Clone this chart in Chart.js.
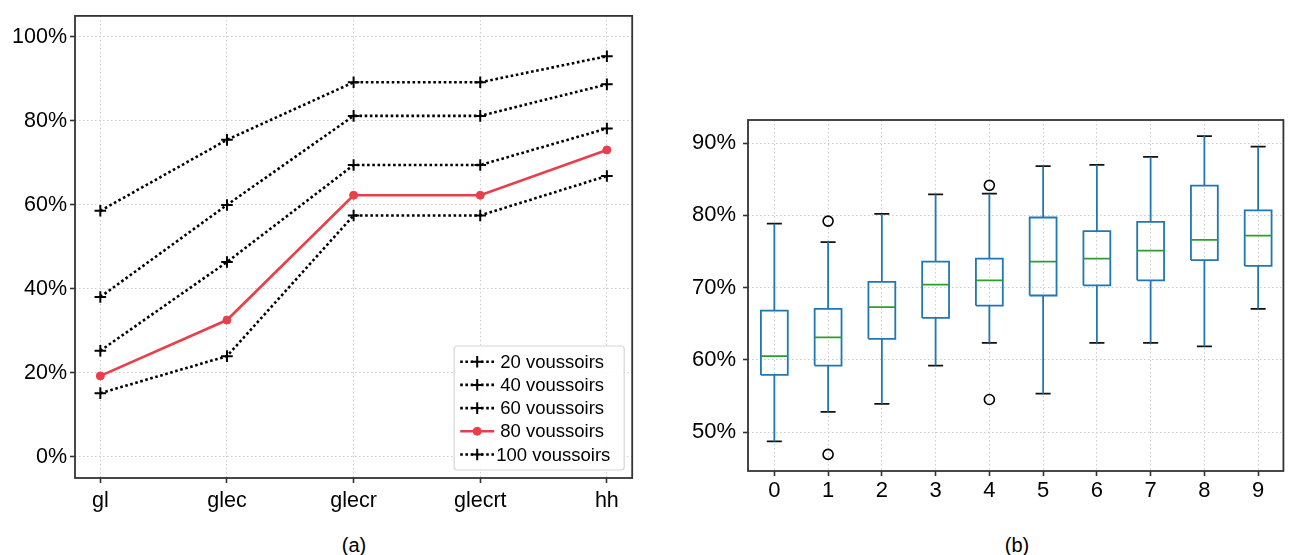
<!DOCTYPE html>
<html>
<head>
<meta charset="utf-8">
<script src="https://cdn.jsdelivr.net/npm/chart.js@4.4.1/dist/chart.umd.min.js"></script>
<style>
  body { margin: 0; background: #fff; width: 1290px; height: 555px; overflow: hidden; position: relative;
         font-family: "Liberation Sans", Arial, sans-serif; }
  #wrapA { position: absolute; left: 0; top: 0; width: 640px; height: 520px; }
  #wrapB { position: absolute; left: 660px; top: 0; width: 630px; height: 520px; }
  .cap { position: absolute; top: 533px; font-size: 20px; color: #000; transform: translateX(-50%); line-height: 24px; }
</style>
</head>
<body>
<div id="wrapA"><canvas id="chartA"></canvas></div>
<div id="wrapB"><canvas id="chartB"></canvas></div>
<div class="cap" style="left:354px">(a)</div>
<div class="cap" style="left:1017px">(b)</div>
<script>
document.addEventListener('DOMContentLoaded', function() {
  // panel (a) data
  const lineCats = ['gl', 'glec', 'glecr', 'glecrt', 'hh'];
  const v20 = [58.6, 75.5, 89.2, 89.2, 95.4];
  const v40 = [38.1, 60.0, 81.2, 81.2, 88.7];
  const v60 = [25.3, 46.4, 69.5, 69.5, 78.2];
  const v80 = [19.3, 32.6, 62.3, 62.3, 73.1];
  const v100 = [15.2, 24.0, 57.5, 57.5, 66.9];
  const yTicksA = [0, 20, 40, 60, 80, 100];

  // panel (b) data
  const boxCats = ['0', '1', '2', '3', '4', '5', '6', '7', '8', '9'];
  const whiskLow = [48.7, 52.8, 53.9, 59.2, 62.35, 55.3, 62.35, 62.35, 61.85, 67.05];
  const q1 = [57.9, 59.2, 62.9, 65.8, 67.5, 68.9, 70.3, 71.0, 73.8, 73.0];
  const med = [60.5, 63.1, 67.3, 70.4, 71.0, 73.6, 74.0, 75.1, 76.6, 77.2];
  const q3 = [66.8, 67.05, 70.8, 73.6, 74.0, 79.7, 77.8, 79.1, 84.1, 80.7];
  const whiskHigh = [78.85, 76.3, 80.2, 82.9, 83.0, 86.8, 87.0, 88.1, 90.97, 89.5];
  const fliers = [[], [79.2, 46.9], [], [], [84.15, 54.5], [], [], [], [], []];
  const yTicksB = [50, 60, 70, 80, 90];

  const FONT = '"Liberation Sans", Arial, sans-serif';
  const txt = '#000';
  const gridCol = '#cccccc';

  const frame = {
    id: 'frame',
    afterDraw(chart) {
      const a = chart.chartArea, ctx = chart.ctx;
      ctx.save();
      ctx.strokeStyle = '#333';
      ctx.lineWidth = 1.8;
      ctx.strokeRect(a.left, a.top, a.right - a.left, a.bottom - a.top);
      ctx.restore();
    }
  };

  const legendBox = {
    id: 'legendBox',
    afterDatasetsDraw(chart) {
      const a = chart.chartArea, ctx = chart.ctx;
      const w = 170, h = 124;
      const x0 = a.right - 8 - w, y0 = a.bottom - 8 - h;
      ctx.save();
      ctx.beginPath();
      ctx.roundRect(x0, y0, w, h, 3);
      ctx.fillStyle = 'rgba(255,255,255,0.85)';
      ctx.fill();
      ctx.strokeStyle = '#d6d6d6';
      ctx.lineWidth = 1.2;
      ctx.stroke();
      chart.data.datasets.forEach(function(ds, i) {
        const y = y0 + 15.7 + i * 23.2;
        ctx.beginPath();
        ctx.setLineDash(ds.borderDash || []);
        ctx.strokeStyle = ds.borderColor;
        ctx.lineWidth = ds.borderWidth;
        ctx.moveTo(x0 + 6, y);
        ctx.lineTo(x0 + 40, y);
        ctx.stroke();
        ctx.setLineDash([]);
        ctx.fillStyle = ds.pointBackgroundColor;
        ctx.strokeStyle = ds.pointBorderColor;
        ctx.lineWidth = ds.pointBorderWidth;
        Chart.helpers.drawPoint(ctx, {pointStyle: ds.pointStyle, radius: ds.pointRadius, borderWidth: ds.pointBorderWidth, rotation: 0}, x0 + 23, y);
        ctx.fillStyle = txt;
        ctx.font = '18.5px ' + FONT;
        ctx.textBaseline = 'middle';
        ctx.fillText(ds.label, x0 + (ds.label.length > 12 ? 42 : 46), y + 1);
      });
      ctx.restore();
    }
  };

  function dotted(label, vals) {
    return {
      label: label,
      data: vals.map((y, i) => ({x: i, y: y})),
      borderColor: '#000',
      borderWidth: 2.6,
      borderDash: [2.6, 2.6],
      pointStyle: 'cross',
      pointRadius: 5.8,
      pointBorderWidth: 2,
      pointBorderColor: '#000',
      pointBackgroundColor: '#000',
      pointHoverRadius: 5.8
    };
  }

  const redSet = {
    label: '80 voussoirs',
    data: v80.map((y, i) => ({x: i, y: y})),
    borderColor: '#e8404a',
    borderWidth: 2.6,
    pointStyle: 'circle',
    pointRadius: 4,
    pointBorderWidth: 1,
    pointBorderColor: '#e8404a',
    pointBackgroundColor: '#e8404a',
    pointHoverRadius: 4
  };

  new Chart(document.getElementById('chartA'), {
    type: 'line',
    data: {
      datasets: [dotted('20 voussoirs', v20), dotted('40 voussoirs', v40), dotted('60 voussoirs', v60),
                 redSet, dotted('100 voussoirs', v100)]
    },
    options: {
      responsive: true,
      maintainAspectRatio: false,
      animation: false,
      events: [],
      layout: {padding: {top: 12, right: 6.7, left: 0, bottom: 0}},
      plugins: {legend: {display: false}, tooltip: {enabled: false}},
      scales: {
        x: {
          type: 'linear', min: -0.2, max: 4.2,
          afterBuildTicks: ax => { ax.ticks = lineCats.map((c, i) => ({value: i})); },
          afterFit: s => { s.height = 42; },
          ticks: {callback: v => lineCats[v], font: {family: FONT, size: 21.5}, color: txt, padding: 5, maxRotation: 0},
          grid: {color: gridCol, lineWidth: 1, tickColor: '#333', tickLength: 5, tickWidth: 1.6},
          border: {display: false, dash: [1.5, 2.5]}
        },
        y: {
          min: -5, max: 105,
          afterBuildTicks: ax => { ax.ticks = yTicksA.map(v => ({value: v})); },
          afterFit: s => { s.width = 75; },
          ticks: {callback: v => v + '%', font: {family: FONT, size: 21.5}, color: txt, padding: 3},
          grid: {color: gridCol, lineWidth: 1, tickColor: '#333', tickLength: 5, tickWidth: 1.6},
          border: {display: false, dash: [1.5, 2.5]}
        }
      }
    },
    plugins: [legendBox, frame]
  });

  // box plot pieces built from the quartile arrays
  const bw = 0.25, cw = 0.14;
  const gap = i => ({x: i, y: null});
  const boxPts = [], whiskPts = [], medPts = [], capPts = [], flierPts = [];
  boxCats.forEach(function(c, i) {
    boxPts.push({x: i - bw, y: q1[i]}, {x: i + bw, y: q1[i]}, {x: i + bw, y: q3[i]},
                {x: i - bw, y: q3[i]}, {x: i - bw, y: q1[i]}, gap(i));
    whiskPts.push({x: i, y: q3[i]}, {x: i, y: whiskHigh[i]}, gap(i),
                  {x: i, y: whiskLow[i]}, {x: i, y: q1[i]}, gap(i));
    medPts.push({x: i - bw, y: med[i]}, {x: i + bw, y: med[i]}, gap(i));
    capPts.push({x: i - cw, y: whiskHigh[i]}, {x: i + cw, y: whiskHigh[i]}, gap(i),
                {x: i - cw, y: whiskLow[i]}, {x: i + cw, y: whiskLow[i]}, gap(i));
    fliers[i].forEach(v => flierPts.push({x: i, y: v}));
  });

  function seg(data, color, width) {
    return {data: data, borderColor: color, borderWidth: width, pointRadius: 0, pointHoverRadius: 0,
            spanGaps: false, fill: false, borderJoinStyle: 'miter', borderCapStyle: 'butt'};
  }

  new Chart(document.getElementById('chartB'), {
    type: 'line',
    data: {
      datasets: [
        seg(medPts, '#2ca02c', 1.8),
        seg(boxPts, '#1f77b4', 1.8),
        seg(whiskPts, '#1f77b4', 1.8),
        seg(capPts, '#111', 1.8),
        {type: 'scatter', data: flierPts, pointStyle: 'circle', pointRadius: 5, pointBorderWidth: 1.6,
         pointBorderColor: '#000', pointBackgroundColor: 'rgba(0,0,0,0)', pointHoverRadius: 5}
      ]
    },
    options: {
      responsive: true,
      maintainAspectRatio: false,
      animation: false,
      events: [],
      layout: {padding: {top: 120, right: 3, left: 0, bottom: 0}},
      plugins: {legend: {display: false}, tooltip: {enabled: false}},
      scales: {
        x: {
          type: 'linear', min: -0.49, max: 9.47,
          afterBuildTicks: ax => { ax.ticks = boxCats.map((c, i) => ({value: i})); },
          afterFit: s => { s.height = 49; },
          ticks: {callback: v => boxCats[v], font: {family: FONT, size: 22}, color: txt, padding: 2, maxRotation: 0},
          grid: {color: gridCol, lineWidth: 1, tickColor: '#333', tickLength: 5, tickWidth: 1.6},
          border: {display: false, dash: [1.5, 2.5]}
        },
        y: {
          min: 44.6, max: 93.2,
          afterBuildTicks: ax => { ax.ticks = yTicksB.map(v => ({value: v})); },
          afterFit: s => { s.width = 88; },
          ticks: {callback: v => v + '%', font: {family: FONT, size: 22}, color: txt, padding: 7},
          grid: {color: gridCol, lineWidth: 1, tickColor: '#333', tickLength: 5, tickWidth: 1.6},
          border: {display: false, dash: [1.5, 2.5]}
        }
      }
    },
    plugins: [frame]
  });
});
</script>
</body>
</html>
